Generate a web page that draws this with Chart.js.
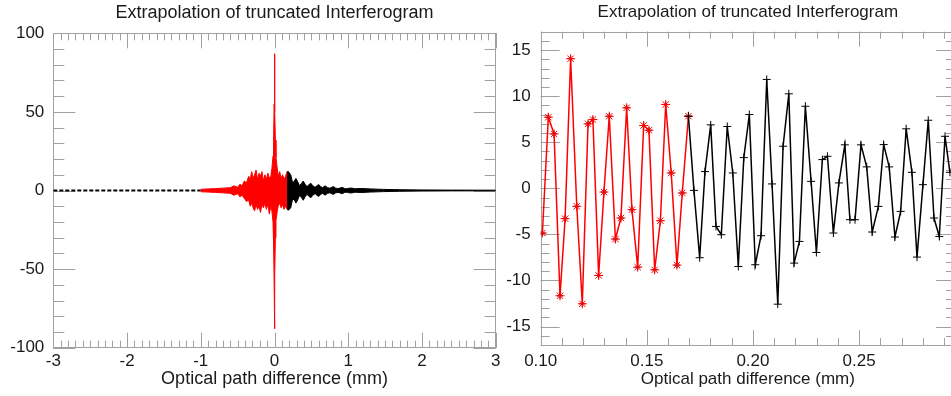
<!DOCTYPE html>
<html>
    <head>
        <title>Interferogram</title>
        <meta charset="utf-8" />
        <script src="https://cdn.jsdelivr.net/npm/chart.js@4.4.1/dist/chart.umd.min.js"></script>
        <style>
            * {
                margin: 0;
                padding: 0;
                box-sizing: border-box;
            }
            body {
                background-color: #ffffff;
                width: 951px;
                height: 396px;
                overflow: hidden;
                position: relative;
            }
            canvas {
                position: absolute;
                top: 0;
            }
        </style>
    </head>
    <body>

        <canvas id="leftChart" width="505" height="396" style="left: 0px;"></canvas>
        <canvas id="rightChart" width="470" height="396" style="left: 500px;"></canvas>

        <script>
            // ---- left panel: envelopes ----
            const leftBlackNegX = [-3, -1];
            const leftBlackNegY = [0, 0];

            const leftRedX = [-1.0, -0.9, -0.8, -0.7, -0.6, -0.55, -0.5, -0.47, -0.44, -0.41, -0.38, -0.35, -0.33, -0.31, -0.29, -0.27, -0.25, -0.23, -0.21, -0.19, -0.17, -0.15, -0.13, -0.11, -0.09, -0.07, -0.05, -0.035, -0.02, -0.012, -0.005, 0, 0.005, 0.012, 0.02, 0.035, 0.05, 0.07, 0.09, 0.11, 0.13, 0.15, 0.17];
            const leftRedUpper = [0.8, 1.0, 1.2, 1.5, 1.8, 3, 2, 4, 3, 6, 5, 9, 7, 12, 8, 10, 13, 7, 11, 9, 12, 6, 10, 7, 11, 8, 9, 14, 22, 35, 55, 87, 50, 32, 21, 15, 9, 12, 8, 10, 7, 9, 12];
            const leftRedLower = [-0.8, -1.0, -1.2, -1.5, -1.8, -3, -2, -4, -3, -5, -7, -6, -10, -8, -11, -13, -9, -12, -10, -14, -9, -11, -8, -12, -9, -15, -10, -13, -20, -35, -60, -88, -55, -30, -19, -14, -10, -8, -11, -9, -12, -10, -12];

            const leftBlackX = [0.17, 0.19, 0.22, 0.245, 0.27, 0.29, 0.31, 0.34, 0.365, 0.39, 0.415, 0.44, 0.465, 0.49, 0.52, 0.55, 0.575, 0.60, 0.625, 0.65, 0.67, 0.69, 0.72, 0.75, 0.775, 0.80, 0.83, 0.86, 0.89, 0.92, 0.95, 0.98, 1.03, 1.1, 1.17, 1.3, 1.48, 1.7, 2.0, 2.4, 3.0];
            const leftBlackUpper = [12, 12, 10, 5, 6, 7.7, 6, 3, 4.5, 6, 4, 2.5, 3.5, 4.7, 3, 2, 3, 3.8, 2.5, 1.8, 2.5, 2.9, 1.8, 1.5, 2, 2.5, 1.5, 1.2, 1.6, 2, 1.2, 1.1, 1.6, 1.1, 1.3, 1.0, 0.7, 0.5, 0.35, 0.25, 0.2];
            const leftBlackLower = [-12, -12.5, -11, -5.5, -6, -8, -6.5, -3, -4.5, -6.2, -4, -2.5, -3.5, -4.7, -3, -2, -3, -3.8, -2.5, -1.8, -2.5, -2.9, -1.8, -1.5, -2, -2.5, -1.5, -1.2, -1.6, -2, -1.2, -1.1, -1.6, -1.1, -1.3, -1.0, -0.7, -0.5, -0.35, -0.25, -0.2];

            const leftXTicks = [-3, -2, -1, 0, 1, 2, 3];
            const leftYTicks = [-100, -50, 0, 50, 100];

            // ---- right panel: zoomed samples ----
            const rightRedX = [0.1008, 0.1036, 0.1063, 0.1091, 0.1115, 0.1141, 0.1170, 0.1196, 0.1223, 0.1246, 0.1273, 0.1298, 0.1323, 0.1352, 0.1378, 0.1405, 0.1430, 0.1457, 0.1485, 0.1510, 0.1537, 0.1564, 0.1589, 0.1615, 0.1642, 0.1667, 0.1696];
            const rightRedY = [-4.85, 7.72, 5.91, -11.66, -3.29, 14.07, -1.95, -12.53, 7.0, 7.47, -9.45, -0.40, 7.83, -5.5, -3.22, 8.74, -2.32, -8.55, 6.82, 6.31, -8.84, -3.51, 9.10, 1.67, -8.33, -0.50, 7.83];

            const rightBlackX = [0.1696, 0.1722, 0.1749, 0.1774, 0.1801, 0.1826, 0.1851, 0.1879, 0.1905, 0.1931, 0.1957, 0.1983, 0.2011, 0.2038, 0.2065, 0.2090, 0.2117, 0.2142, 0.2169, 0.2194, 0.2219, 0.2247, 0.2274, 0.2299, 0.2327, 0.2351, 0.2379, 0.2405, 0.2433, 0.2457, 0.2481, 0.2509, 0.2536, 0.2562, 0.2591, 0.2616, 0.2642, 0.2669, 0.2696, 0.2722, 0.2749, 0.2773, 0.2801, 0.2826, 0.2853, 0.2878, 0.2905, 0.2928];
            const rightBlackY = [7.83, -0.22, -7.53, 1.82, 6.89, -4.13, -5.03, 6.71, 1.67, -8.48, 3.34, 8.01, -8.29, -5.14, 11.82, 0.48, -12.57, 4.57, 10.26, -8.11, -5.76, 8.91, 0.76, -6.96, 3.12, 3.48, -4.85, 0.59, 4.72, -3.40, -3.40, 4.72, 2.33, -4.74, -1.96, 4.75, 2.33, -5.28, -2.5, 6.46, 1.74, -7.46, 0.40, 7.39, -3.22, -5.22, 5.65, 1.74];

            const rightXTicks = [0.10, 0.15, 0.20, 0.25];
            const rightYTicks = [-15, -10, -5, 0, 5, 10, 15];

            const TITLE = 'Extrapolation of truncated Interferogram';
            const XLABEL = 'Optical path difference (mm)';

            Chart.defaults.font.family = "'Liberation Sans', Arial, sans-serif";
            Chart.defaults.color = '#1a1a1a';

            const pts = (xs, ys) => xs.map((x, i) => ({ x: x, y: ys[i] }));

            // inward ticks on all four sides + frame, like the original plot
            const frameTicks = {
                id: 'frameTicks',
                beforeDatasetsDraw(chart, args, opts) {
                    const { ctx, chartArea: a, scales } = chart;
                    ctx.save();
                    ctx.strokeStyle = '#a0a0a0';
                    ctx.lineWidth = 1;
                    ctx.beginPath();
                    const tick = (scale, step, len) => {
                        const start = Math.ceil(scale.min / step - 1e-6);
                        for (let i = start; i * step <= scale.max + 1e-9; i++) {
                            const p = Math.round(scale.getPixelForValue(i * step)) + 0.5;
                            if (scale.isHorizontal()) {
                                ctx.moveTo(p, a.top); ctx.lineTo(p, a.top + len);
                                ctx.moveTo(p, a.bottom); ctx.lineTo(p, a.bottom - len);
                            } else {
                                ctx.moveTo(a.left, p); ctx.lineTo(a.left + len, p);
                                ctx.moveTo(a.right, p); ctx.lineTo(a.right - len, p);
                            }
                        }
                    };
                    tick(scales.x, opts.xMinor, opts.xMinorLen);
                    tick(scales.x, opts.xMajor, opts.xMajorLen);
                    tick(scales.y, opts.yMinor, opts.yMinorLen);
                    tick(scales.y, opts.yMajor, opts.yMajorLen);
                    ctx.rect(Math.round(a.left) + 0.5, Math.round(a.top) + 0.5, Math.round(a.right - a.left), Math.round(a.bottom - a.top));
                    ctx.stroke();
                    ctx.restore();
                }
            };

            function axes(cfg) {
                return {
                    x: {
                        type: 'linear',
                        min: cfg.xmin,
                        max: cfg.xmax,
                        grid: { display: false, drawTicks: false, tickLength: 0 },
                        border: { display: false },
                        afterFit: s => { s.height = cfg.xh; },
                        afterBuildTicks: s => { s.ticks = cfg.xticks.map(v => ({ value: v })); },
                        ticks: {
                            padding: cfg.xpad,
                            maxRotation: 0,
                            autoSkip: false,
                            font: { size: 17 },
                            callback: v => cfg.xfmt(v)
                        },
                        title: {
                            display: true,
                            text: XLABEL,
                            font: { size: cfg.labelSize },
                            padding: { top: 6, bottom: 6 }
                        }
                    },
                    y: {
                        type: 'linear',
                        min: cfg.ymin,
                        max: cfg.ymax,
                        grid: { display: false, drawTicks: false, tickLength: 0 },
                        border: { display: false },
                        afterFit: s => { s.width = cfg.yw; },
                        afterBuildTicks: s => { s.ticks = cfg.yticks.map(v => ({ value: v })); },
                        ticks: {
                            padding: cfg.ypad,
                            autoSkip: false,
                            font: { size: 17 },
                            callback: v => String(v)
                        }
                    }
                };
            }

            const envelope = (color, xs, up, lo) => [
                { data: pts(xs, up), borderColor: color, backgroundColor: color, borderWidth: 1, pointRadius: 0, fill: false },
                { data: pts(xs, lo), borderColor: color, backgroundColor: color, borderWidth: 1, pointRadius: 0, fill: '-1' }
            ];

            new Chart(document.getElementById('leftChart'), {
                type: 'line',
                data: {
                    datasets: [
                        ...envelope('#000000', leftBlackX, leftBlackUpper, leftBlackLower),
                        ...envelope('#ff0000', leftRedX, leftRedUpper, leftRedLower),
                        {
                            data: pts(leftBlackNegX, leftBlackNegY),
                            borderColor: '#000000',
                            borderWidth: 2,
                            borderDash: [4, 2],
                            pointRadius: 0,
                            fill: false
                        }
                    ]
                },
                options: {
                    responsive: false,
                    animation: false,
                    devicePixelRatio: 1,
                    layout: { padding: { left: 0, right: 9.3, top: 0, bottom: 0 } },
                    scales: axes({
                        xmin: -3, xmax: 3, ymin: -100, ymax: 100,
                        xticks: leftXTicks, yticks: leftYTicks,
                        xfmt: v => String(v),
                        xh: 48.3, yw: 53.3, xpad: 3, ypad: 9, labelSize: 18
                    }),
                    plugins: {
                        legend: { display: false },
                        tooltip: { enabled: false },
                        title: {
                            display: true,
                            text: TITLE,
                            fullSize: false,
                            color: '#1a1a1a',
                            font: { size: 18, weight: 'normal' },
                            padding: { top: 2, bottom: 9.7 }
                        },
                        frameTicks: {
                            xMinor: 0.1, xMinorLen: 7, xMajor: 1, xMajorLen: 15,
                            yMinor: 10, yMinorLen: 11, yMajor: 50, yMajorLen: 22
                        }
                    }
                },
                plugins: [frameTicks]
            });

            new Chart(document.getElementById('rightChart'), {
                type: 'line',
                data: {
                    datasets: [
                        {
                            data: pts(rightBlackX, rightBlackY),
                            borderColor: '#000000',
                            borderWidth: 1.5,
                            pointStyle: 'cross',
                            pointRadius: 4,
                            pointBorderColor: '#000000',
                            pointBorderWidth: 1,
                            fill: false
                        },
                        {
                            data: pts(rightRedX, rightRedY),
                            borderColor: '#ff0000',
                            borderWidth: 1.5,
                            pointStyle: 'star',
                            pointRadius: 4.5,
                            pointBorderColor: '#ff0000',
                            pointBorderWidth: 1,
                            fill: false
                        },
                        {
                            data: pts(rightRedX, rightRedY),
                            showLine: false,
                            pointStyle: 'cross',
                            pointRadius: 3,
                            pointBorderColor: '#000000',
                            pointBorderWidth: 1
                        }
                    ]
                },
                options: {
                    responsive: false,
                    animation: false,
                    devicePixelRatio: 1,
                    layout: { padding: { left: 0, right: 15, top: 0, bottom: 0 } },
                    scales: axes({
                        xmin: 0.1, xmax: 0.2952, ymin: -17, ymax: 17,
                        xticks: rightXTicks, yticks: rightYTicks,
                        xfmt: v => v.toFixed(2),
                        xh: 51, yw: 40.7, xpad: 6.5, ypad: 10, labelSize: 17
                    }),
                    plugins: {
                        legend: { display: false },
                        tooltip: { enabled: false },
                        title: {
                            display: true,
                            text: TITLE,
                            fullSize: false,
                            color: '#1a1a1a',
                            font: { size: 17, weight: 'normal' },
                            padding: { top: 2, bottom: 9.3 }
                        },
                        frameTicks: {
                            xMinor: 0.01, xMinorLen: 7, xMajor: 0.05, xMajorLen: 15,
                            yMinor: 1, yMinorLen: 9, yMajor: 5, yMajorLen: 19
                        }
                    }
                },
                plugins: [frameTicks]
            });
        </script>
    </body>
</html>
